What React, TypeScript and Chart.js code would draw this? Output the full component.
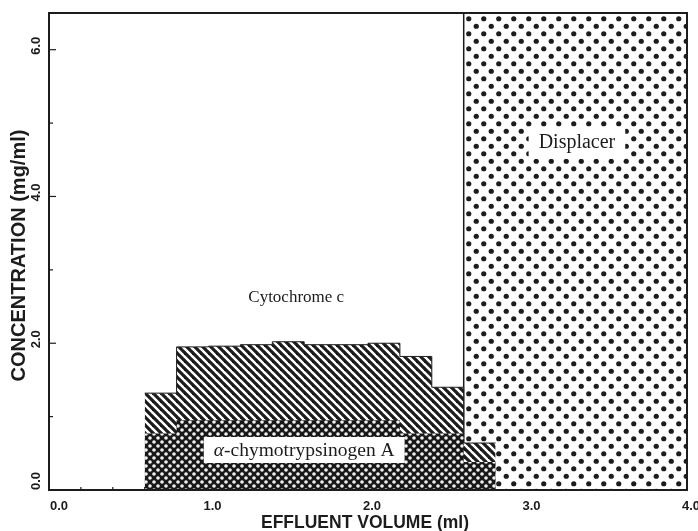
import { useEffect, useRef } from "react";
import { Chart, registerables } from "chart.js";

Chart.register(...registerables);

// ---- data ----
const fractionStarts = [0.6, 0.8, 1.0, 1.2, 1.4, 1.6, 1.8, 2.0, 2.2, 2.4, 2.6];
const fractionWidth = 0.2;
const cytochromeC = [1.32, 1.95, 1.96, 1.98, 2.02, 1.98, 1.98, 2.0, 1.82, 1.4, 0.64];
const chymotrypsinogenA = [0.77, 0.95, 0.95, 0.95, 0.95, 0.95, 0.95, 0.95, 0.77, 0.77, 0.38];
const displacerStart = 2.6;
const displacerEnd = 4.0;
const displacerLevel = 6.5;
const xTickValues = [0, 1, 2, 3, 4];
const xTickLabels = ["0.0", "1.0", "2.0", "3.0", "4.0"];
const yTickValues = [0, 2, 4, 6];
const yTickLabels = ["0.0", "2.0", "4.0", "6.0"];
const xTitle = "EFFLUENT VOLUME (ml)";
const yTitle = "CONCENTRATION (mg/ml)";
const labelCytochrome = { text: "Cytochrome c", x: 1.55, y: 2.62 };
const labelDisplacer = { text: "Displacer", x: 3.31, y: 4.73 };
const labelChymo = { greek: "α", text: "-chymotrypsinogen A", x: 1.6, y: 0.545 };

const INK = "#1c1c1c";
const SANS = "'Liberation Sans', Arial, sans-serif";
const SERIF = "'Liberation Serif', 'Times New Roman', serif";

function stepPoints(values: number[]) {
  const pts = values.map((v, i) => ({ x: fractionStarts[i], y: v }));
  const last = values.length - 1;
  pts.push({ x: fractionStarts[last] + fractionWidth, y: values[last] });
  return pts;
}

function makeTile(w: number, h: number, draw: (c: CanvasRenderingContext2D) => void) {
  const t = document.createElement("canvas");
  t.width = w;
  t.height = h;
  const c = t.getContext("2d")!;
  draw(c);
  return t;
}

function hatchPattern(ctx: CanvasRenderingContext2D) {
  const tile = makeTile(8, 8, (c) => {
    c.fillStyle = "#ffffff";
    c.fillRect(0, 0, 8, 8);
    c.strokeStyle = INK;
    c.lineWidth = 3.2;
    for (const k of [-8, 0, 8]) {
      c.beginPath();
      c.moveTo(k - 1, -1);
      c.lineTo(k + 9, 9);
      c.stroke();
    }
  });
  return ctx.createPattern(tile, "repeat")!;
}

function denseDotPattern(ctx: CanvasRenderingContext2D) {
  const tile = makeTile(8, 8, (c) => {
    c.fillStyle = "#181818";
    c.fillRect(0, 0, 8, 8);
    c.fillStyle = "#f2f2f2";
    for (const [cx, cy] of [[2, 2], [6, 6]]) {
      c.beginPath();
      c.arc(cx, cy, 1.8, 0, Math.PI * 2);
      c.fill();
    }
  });
  return ctx.createPattern(tile, "repeat")!;
}

function sparseDotPattern(ctx: CanvasRenderingContext2D) {
  const tile = makeTile(15, 15, (c) => {
    c.fillStyle = "#ffffff";
    c.fillRect(0, 0, 15, 15);
    c.fillStyle = INK;
    for (const [cx, cy] of [[3.75, 3.75], [11.25, 11.25]]) {
      c.beginPath();
      c.arc(cx, cy, 2.6, 0, Math.PI * 2);
      c.fill();
    }
  });
  return ctx.createPattern(tile, "repeat")!;
}

const decorPlugin = {
  id: "decor",
  beforeDatasetsDraw(chart: any) {
    const { ctx, chartArea: a, scales } = chart;
    const x = scales.x;
    const y = scales.y;
    ctx.save();
    ctx.strokeStyle = INK;
    ctx.lineWidth = 1.2;
    for (let i = 1; i < 20; i++) {
      const px = x.getPixelForValue(i * 0.2);
      const len = i % 5 === 0 ? 6 : 3;
      ctx.beginPath();
      ctx.moveTo(px, a.bottom);
      ctx.lineTo(px, a.bottom - len);
      ctx.stroke();
    }
    for (let v = 1; v <= 6; v++) {
      const py = y.getPixelForValue(v);
      const len = v % 2 === 0 ? 7 : 4;
      ctx.beginPath();
      ctx.moveTo(a.left, py);
      ctx.lineTo(a.left + len, py);
      ctx.stroke();
    }
    ctx.restore();
  },
  afterDatasetsDraw(chart: any) {
    const { ctx, chartArea: a, scales } = chart;
    const x = scales.x;
    const y = scales.y;
    ctx.save();
    // frame
    ctx.strokeStyle = INK;
    ctx.lineWidth = 2;
    ctx.strokeRect(a.left, a.top, a.right - a.left, a.bottom - a.top);

    // x tick labels
    ctx.fillStyle = INK;
    ctx.font = `bold 13px ${SANS}`;
    ctx.textBaseline = "middle";
    xTickValues.forEach((v, i) => {
      const px = x.getPixelForValue(v);
      if (i === 0) {
        ctx.textAlign = "left";
        ctx.fillText(xTickLabels[i], px + 1, a.bottom + 16);
      } else {
        ctx.textAlign = "center";
        ctx.fillText(xTickLabels[i], px + 4, a.bottom + 16);
      }
    });
    // y tick labels (rotated)
    yTickValues.forEach((v, i) => {
      const py = y.getPixelForValue(v);
      ctx.save();
      ctx.translate(a.left - 13, i === 0 ? py : py - 4);
      ctx.rotate(-Math.PI / 2);
      ctx.textAlign = i === 0 ? "left" : "center";
      ctx.textBaseline = "middle";
      ctx.fillText(yTickLabels[i], 0, 0);
      ctx.restore();
    });

    // axis titles
    ctx.font = `bold 17.5px ${SANS}`;
    ctx.textAlign = "center";
    ctx.textBaseline = "alphabetic";
    ctx.fillText(xTitle, (a.left + a.right) / 2 - 3, a.bottom + 38);
    ctx.save();
    ctx.translate(25, (a.top + a.bottom) / 2 + 4);
    ctx.rotate(-Math.PI / 2);
    ctx.font = `bold 20px ${SANS}`;
    ctx.textBaseline = "alphabetic";
    ctx.fillText(yTitle, 0, 0);
    ctx.restore();

    // in-plot labels
    ctx.font = `17px ${SERIF}`;
    ctx.textAlign = "center";
    ctx.textBaseline = "middle";
    ctx.fillText(labelCytochrome.text, x.getPixelForValue(labelCytochrome.x), y.getPixelForValue(labelCytochrome.y));

    // Displacer with white box
    ctx.font = `20px ${SERIF}`;
    const dx = x.getPixelForValue(labelDisplacer.x);
    const dy = y.getPixelForValue(labelDisplacer.y);
    const dw = ctx.measureText(labelDisplacer.text).width;
    ctx.fillStyle = "#ffffff";
    ctx.fillRect(dx - dw / 2 - 10, dy - 16, dw + 20, 32);
    ctx.fillStyle = INK;
    ctx.fillText(labelDisplacer.text, dx, dy);

    // chymotrypsinogen label with white box
    const cx = x.getPixelForValue(labelChymo.x);
    const cy = y.getPixelForValue(labelChymo.y);
    ctx.font = `italic 19.5px ${SERIF}`;
    const gw = ctx.measureText(labelChymo.greek).width;
    ctx.font = `19.5px ${SERIF}`;
    const tw = ctx.measureText(labelChymo.text).width;
    const total = gw + tw;
    ctx.fillStyle = "#ffffff";
    ctx.fillRect(cx - total / 2 - 10, cy - 13, total + 20, 26);
    ctx.fillStyle = INK;
    ctx.textAlign = "left";
    ctx.font = `italic 19.5px ${SERIF}`;
    ctx.fillText(labelChymo.greek, cx - total / 2, cy + 1);
    ctx.font = `19.5px ${SERIF}`;
    ctx.fillText(labelChymo.text, cx - total / 2 + gw, cy + 1);

    ctx.restore();
  },
};

export default function App() {
  const ref = useRef<HTMLCanvasElement | null>(null);

  useEffect(() => {
    const canvas = ref.current;
    if (!canvas) return;
    const ctx = canvas.getContext("2d")!;
    const chart = new Chart(canvas, {
      type: "line",
      data: {
        datasets: [
          {
            label: "α-chymotrypsinogen A",
            data: stepPoints(chymotrypsinogenA),
            stepped: true,
            fill: "origin",
            backgroundColor: denseDotPattern(ctx),
            borderWidth: 0,
            borderColor: INK,
            pointRadius: 0,
            order: 1,
          },
          {
            label: "Cytochrome c",
            data: stepPoints(cytochromeC),
            stepped: true,
            fill: "origin",
            backgroundColor: hatchPattern(ctx),
            borderWidth: 1,
            borderColor: INK,
            pointRadius: 0,
            order: 2,
          },
          {
            label: "Displacer",
            data: [
              { x: displacerStart, y: 0 },
              { x: displacerStart, y: displacerLevel },
              { x: displacerEnd, y: displacerLevel },
            ],
            stepped: true,
            fill: "origin",
            backgroundColor: sparseDotPattern(ctx),
            borderWidth: 1.5,
            borderColor: INK,
            pointRadius: 0,
            order: 3,
          },
        ],
      },
      options: {
        responsive: false,
        animation: false,
        devicePixelRatio: 1,
        layout: { padding: { left: 49, top: 13, right: 11, bottom: 41 } },
        plugins: { legend: { display: false }, tooltip: { enabled: false } },
        scales: {
          x: { type: "linear", min: 0, max: 4, display: false },
          y: { type: "linear", min: 0, max: 6.5, display: false },
        },
      },
      plugins: [decorPlugin],
    } as any);
    return () => chart.destroy();
  }, []);

  return (
    <div style={{ position: "absolute", left: 0, top: 0, width: 698, height: 531, background: "#fff" }}>
      <canvas ref={ref} width={698} height={531} style={{ display: "block" }} />
    </div>
  );
}
